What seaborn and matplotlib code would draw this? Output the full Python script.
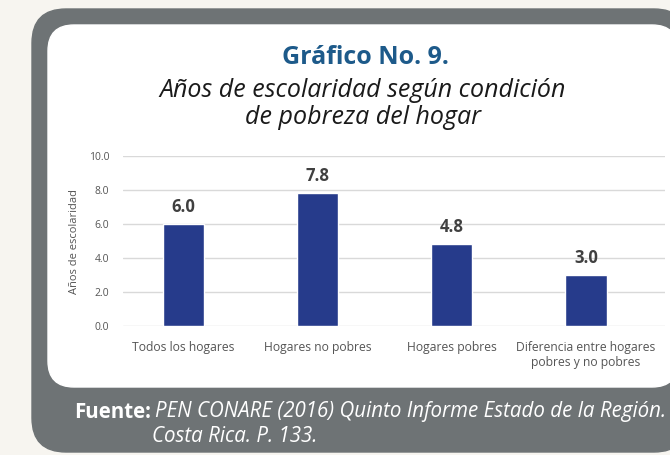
import seaborn as sns
import matplotlib.pyplot as plt
import pandas as pd
from matplotlib.patches import FancyBboxPatch, Rectangle

categorias = ['Todos los hogares', 'Hogares no pobres', 'Hogares pobres',
              'Diferencia entre hogares\npobres y no pobres']
anios = [6.0, 7.8, 4.8, 3.0]
y_ticks = [0, 2, 4, 6, 8, 10]

titulo = 'Gráfico No. 9.'
subtitulo = 'Años de escolaridad según condición\nde pobreza del hogar'
fuente_1 = 'PEN CONARE (2016) Quinto Informe Estado de la Región.'
fuente_2 = 'Costa Rica. P. 133.'

df = pd.DataFrame({'categoria': categorias, 'anios': anios})

sns.set_style('white')
plt.rcParams['font.family'] = ['Open Sans', 'DejaVu Sans']

W, H = 670, 455
fig = plt.figure(figsize=(W / 100, H / 100), dpi=100)

# background layer in pixel coordinates
bg = fig.add_axes([0, 0, 1, 1])
bg.set_xlim(0, W)
bg.set_ylim(H, 0)
bg.axis('off')
bg.add_patch(Rectangle((0, 0), W, H, color='#f7f5f0', zorder=0))
bg.add_patch(FancyBboxPatch((32 + 34, 9 + 34), 656 - 68, 443 - 68,
                            boxstyle='round,pad=34', color='#6e7375', zorder=1))
bg.add_patch(FancyBboxPatch((48 + 26, 25 + 26), 630 - 52, 362 - 52,
                            boxstyle='round,pad=26', color='white', zorder=2))

bg.text(365, 57, titulo, ha='center', va='center', fontsize=18,
        fontweight='bold', color='#1d5a8a', zorder=3)
bg.text(363, 104, subtitulo, ha='center', va='center', fontsize=18,
        style='italic', color='#1a1a1a', linespacing=1.08, zorder=3)
bg.text(74, 412, 'Fuente:', ha='left', va='center', fontsize=14.8,
        fontweight='bold', color='white', zorder=3)
bg.text(155, 412, fuente_1, ha='left', va='center', fontsize=14.8,
        style='italic', color='white', zorder=3)
bg.text(152, 437, fuente_2, ha='left', va='center', fontsize=14.8,
        style='italic', color='white', zorder=3)

# chart axes
x0, x1 = 123, 665
ytop, ybot = 156, 326
ax = fig.add_axes([x0 / W, 1 - ybot / H, (x1 - x0) / W, (ybot - ytop) / H])
ax.set_facecolor('none')
sns.barplot(data=df, x='categoria', y='anios', color='#263b8b',
            width=0.31, saturation=1, ax=ax, zorder=3)
ax.bar_label(ax.containers[0], fmt='%.1f', padding=6, fontsize=12,
             fontweight='bold', color='#404040')
ax.set_xlim(-0.45, 3.59)
ax.set_ylim(0, 10)
ax.set_yticks(y_ticks)
ax.set_yticklabels([f'{v:.1f}' for v in y_ticks])
ax.yaxis.grid(True, color='#d9d9d9', linewidth=1)
ax.set_axisbelow(True)
for s in ax.spines.values():
    s.set_visible(False)
ax.tick_params(axis='both', length=0, labelsize=8.7, labelcolor='#555555')
ax.tick_params(axis='y', labelsize=7.5, pad=10)
ax.tick_params(axis='x', pad=11)
ax.set_xlabel('')
ax.set_ylabel('Años de escolaridad', fontsize=8, color='#555555', labelpad=6)

fig.savefig('out.png', dpi=100)
